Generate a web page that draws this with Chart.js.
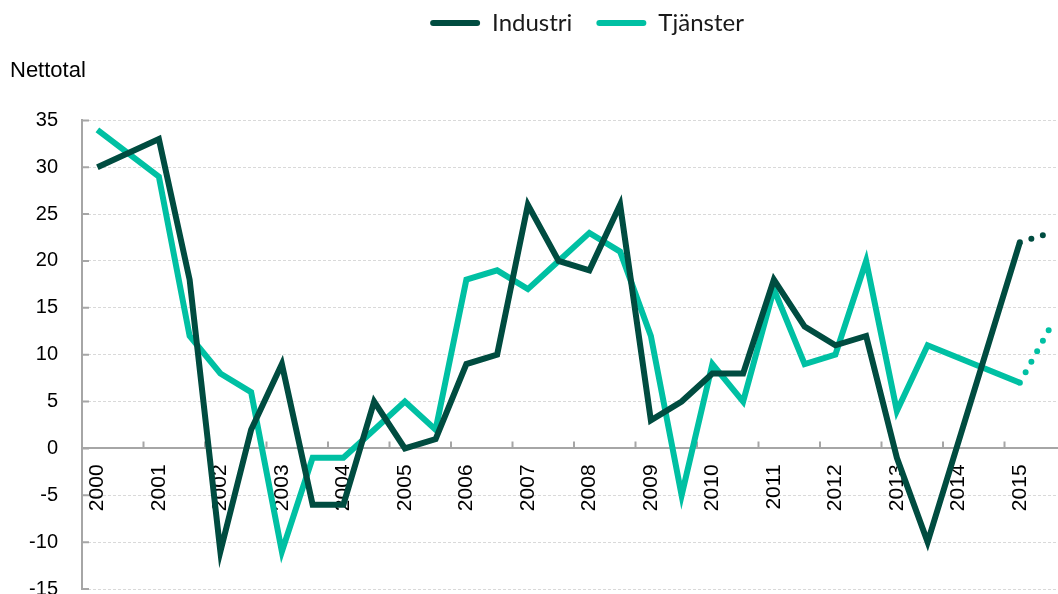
<!DOCTYPE html>
<html lang="sv">
<head>
    <meta charset="UTF-8">
    <title>Nettotal Industri och Tjänster</title>
    <script src="https://cdn.jsdelivr.net/npm/chart.js"></script>
    <style>
        html, body { margin: 0; padding: 0; overflow: hidden; background: #fff; }
        canvas { display: block; }
    </style>
</head>
<body>
    <canvas id="myChart" width="1066" height="625"></canvas>

    <script>
        // half-year periods, the year is shown on the first half only
        const periods = [
            '2000 H1', '2000 H2', '2001 H1', '2001 H2', '2002 H1', '2002 H2', '2003 H1', '2003 H2',
            '2004 H1', '2004 H2', '2005 H1', '2005 H2', '2006 H1', '2006 H2', '2007 H1', '2007 H2',
            '2008 H1', '2008 H2', '2009 H1', '2009 H2', '2010 H1', '2010 H2', '2011 H1', '2011 H2',
            '2012 H1', '2012 H2', '2013 H1', '2013 H2', '2014 H1', '2014 H2', '2015 H1', '2015 H2'
        ];

        const industri = [
            30, null, 33, 18, -11, 2, 9, -6,
            -6, 5, 0, 1, 9, 10, 26, 20,
            19, 26, 3, 5, 8, 8, 18, 13,
            11, 12, -1, -10, null, null, 22, null
        ];
        const tjanster = [
            34, null, 29, 12, 8, 6, -11, -1,
            -1, 2, 5, 2, 18, 19, 17, 20,
            23, 21, 12, -5, 9, 5, 17, 9,
            10, 20, 4, 11, null, null, 7, null
        ];

        // dotted forecast part
        const industriPrognos = [
            null, null, null, null, null, null, null, null,
            null, null, null, null, null, null, null, null,
            null, null, null, null, null, null, null, null,
            null, null, null, null, null, null, 22, 23
        ];
        const tjansterPrognos = [
            null, null, null, null, null, null, null, null,
            null, null, null, null, null, null, null, null,
            null, null, null, null, null, null, null, null,
            null, null, null, null, null, null, 7, 13
        ];

        const yTicks = [35, 30, 25, 20, 15, 10, 5, 0, -5, -10, -15];

        const darkGreen = '#004c40';
        const teal = '#00c0a3';
        const axisGrey = '#a6a6a6';
        const arial = "'Liberation Sans', Arial, sans-serif";

        // small tick marks pointing into the plot, as in the original
        const insideTicks = {
            id: 'insideTicks',
            beforeDatasetsDraw(chart) {
                const { ctx, chartArea, scales: { x, y } } = chart;
                const y0 = y.getPixelForValue(0);
                ctx.save();
                ctx.strokeStyle = axisGrey;
                ctx.lineWidth = 2;
                ctx.beginPath();
                for (let i = 2; i < periods.length; i += 2) {
                    const px = x.getPixelForValue(i - 0.5);
                    ctx.moveTo(px, y0);
                    ctx.lineTo(px, y0 - 7);
                }
                yTicks.forEach(v => {
                    const py = y.getPixelForValue(v);
                    ctx.moveTo(chartArea.left, py);
                    ctx.lineTo(chartArea.left + 7, py);
                });
                ctx.stroke();
                ctx.restore();
            }
        };

        // the legend sits a bit right of centre and close to the top
        const legendNudge = {
            id: 'legendNudge',
            afterLayout(chart) {
                const l = chart.legend;
                l.left += 49;
                l.right += 49;
                l.top -= 13;
                l.bottom -= 13;
            }
        };

        const ctx = document.getElementById('myChart').getContext('2d');

        new Chart(ctx, {
            type: 'line',
            data: {
                labels: periods,
                datasets: [
                    {
                        label: 'Industri',
                        data: industri,
                        borderColor: darkGreen,
                        backgroundColor: darkGreen,
                        borderWidth: 6,
                        pointRadius: 0,
                        spanGaps: true,
                        tension: 0
                    },
                    {
                        label: 'Tjänster',
                        data: tjanster,
                        borderColor: teal,
                        backgroundColor: teal,
                        borderWidth: 6,
                        pointRadius: 0,
                        spanGaps: true,
                        tension: 0
                    },
                    {
                        label: 'Industri prognos',
                        data: industriPrognos,
                        borderColor: darkGreen,
                        borderWidth: 6,
                        borderDash: [0, 12],
                        borderCapStyle: 'round',
                        pointRadius: 0
                    },
                    {
                        label: 'Tjänster prognos',
                        data: tjansterPrognos,
                        borderColor: teal,
                        borderWidth: 6,
                        borderDash: [0, 12],
                        borderCapStyle: 'round',
                        pointRadius: 0
                    }
                ]
            },
            options: {
                responsive: false,
                animation: false,
                layout: {
                    padding: { left: 10, right: 0, top: 0, bottom: 0 }
                },
                plugins: {
                    tooltip: { enabled: false },
                    legend: {
                        position: 'top',
                        maxHeight: 50,
                        labels: {
                            boxWidth: 50,
                            boxHeight: 6,
                            padding: 24,
                            useBorderRadius: true,
                            borderRadius: 3,
                            color: '#1a1a1a',
                            font: { family: "Lato, 'Open Sans', sans-serif", size: 24 },
                            generateLabels: chart => chart.data.datasets.slice(0, 2).map((ds, i) => ({
                                text: ds.label,
                                fillStyle: ds.borderColor,
                                strokeStyle: ds.borderColor,
                                lineWidth: 0,
                                borderRadius: 3,
                                fontColor: '#1a1a1a',
                                datasetIndex: i,
                                hidden: false
                            }))
                        }
                    },
                    title: {
                        display: true,
                        text: 'Nettotal',
                        align: 'start',
                        weight: 500,
                        color: '#000',
                        font: { family: arial, size: 22, weight: 'normal' },
                        padding: { top: 8, bottom: 36 }
                    }
                },
                scales: {
                    x: {
                        position: { y: 0 },
                        offset: true,
                        // the axis sits on zero inside the plot, so it takes no layout room
                        afterFit: scale => {
                            scale.height = 0;
                            scale.paddingLeft = 0;
                            scale.paddingRight = 0;
                            scale.paddingTop = 0;
                            scale.paddingBottom = 0;
                        },
                        grid: { display: false, drawTicks: false, offset: true },
                        border: { display: true, color: axisGrey, width: 2 },
                        ticks: {
                            autoSkip: false,
                            minRotation: 90,
                            maxRotation: 90,
                            padding: 16,
                            color: '#000',
                            font: { family: arial, size: 21 },
                            callback: function (value, index) {
                                const p = periods[index];
                                return p.endsWith('H1') ? p.slice(0, 4) : '';
                            }
                        }
                    },
                    y: {
                        min: -15,
                        max: 35,
                        afterFit: scale => { scale.width = 72; },
                        afterBuildTicks: scale => { scale.ticks = yTicks.map(v => ({ value: v })); },
                        grid: { color: '#d9d9d9', lineWidth: 1, drawTicks: false },
                        border: { display: true, color: axisGrey, width: 2, dash: [3, 2] },
                        ticks: {
                            padding: 24,
                            color: '#000',
                            font: { family: arial, size: 20 }
                        }
                    }
                }
            },
            plugins: [insideTicks, legendNudge]
        });
    </script>
</body>
</html>
